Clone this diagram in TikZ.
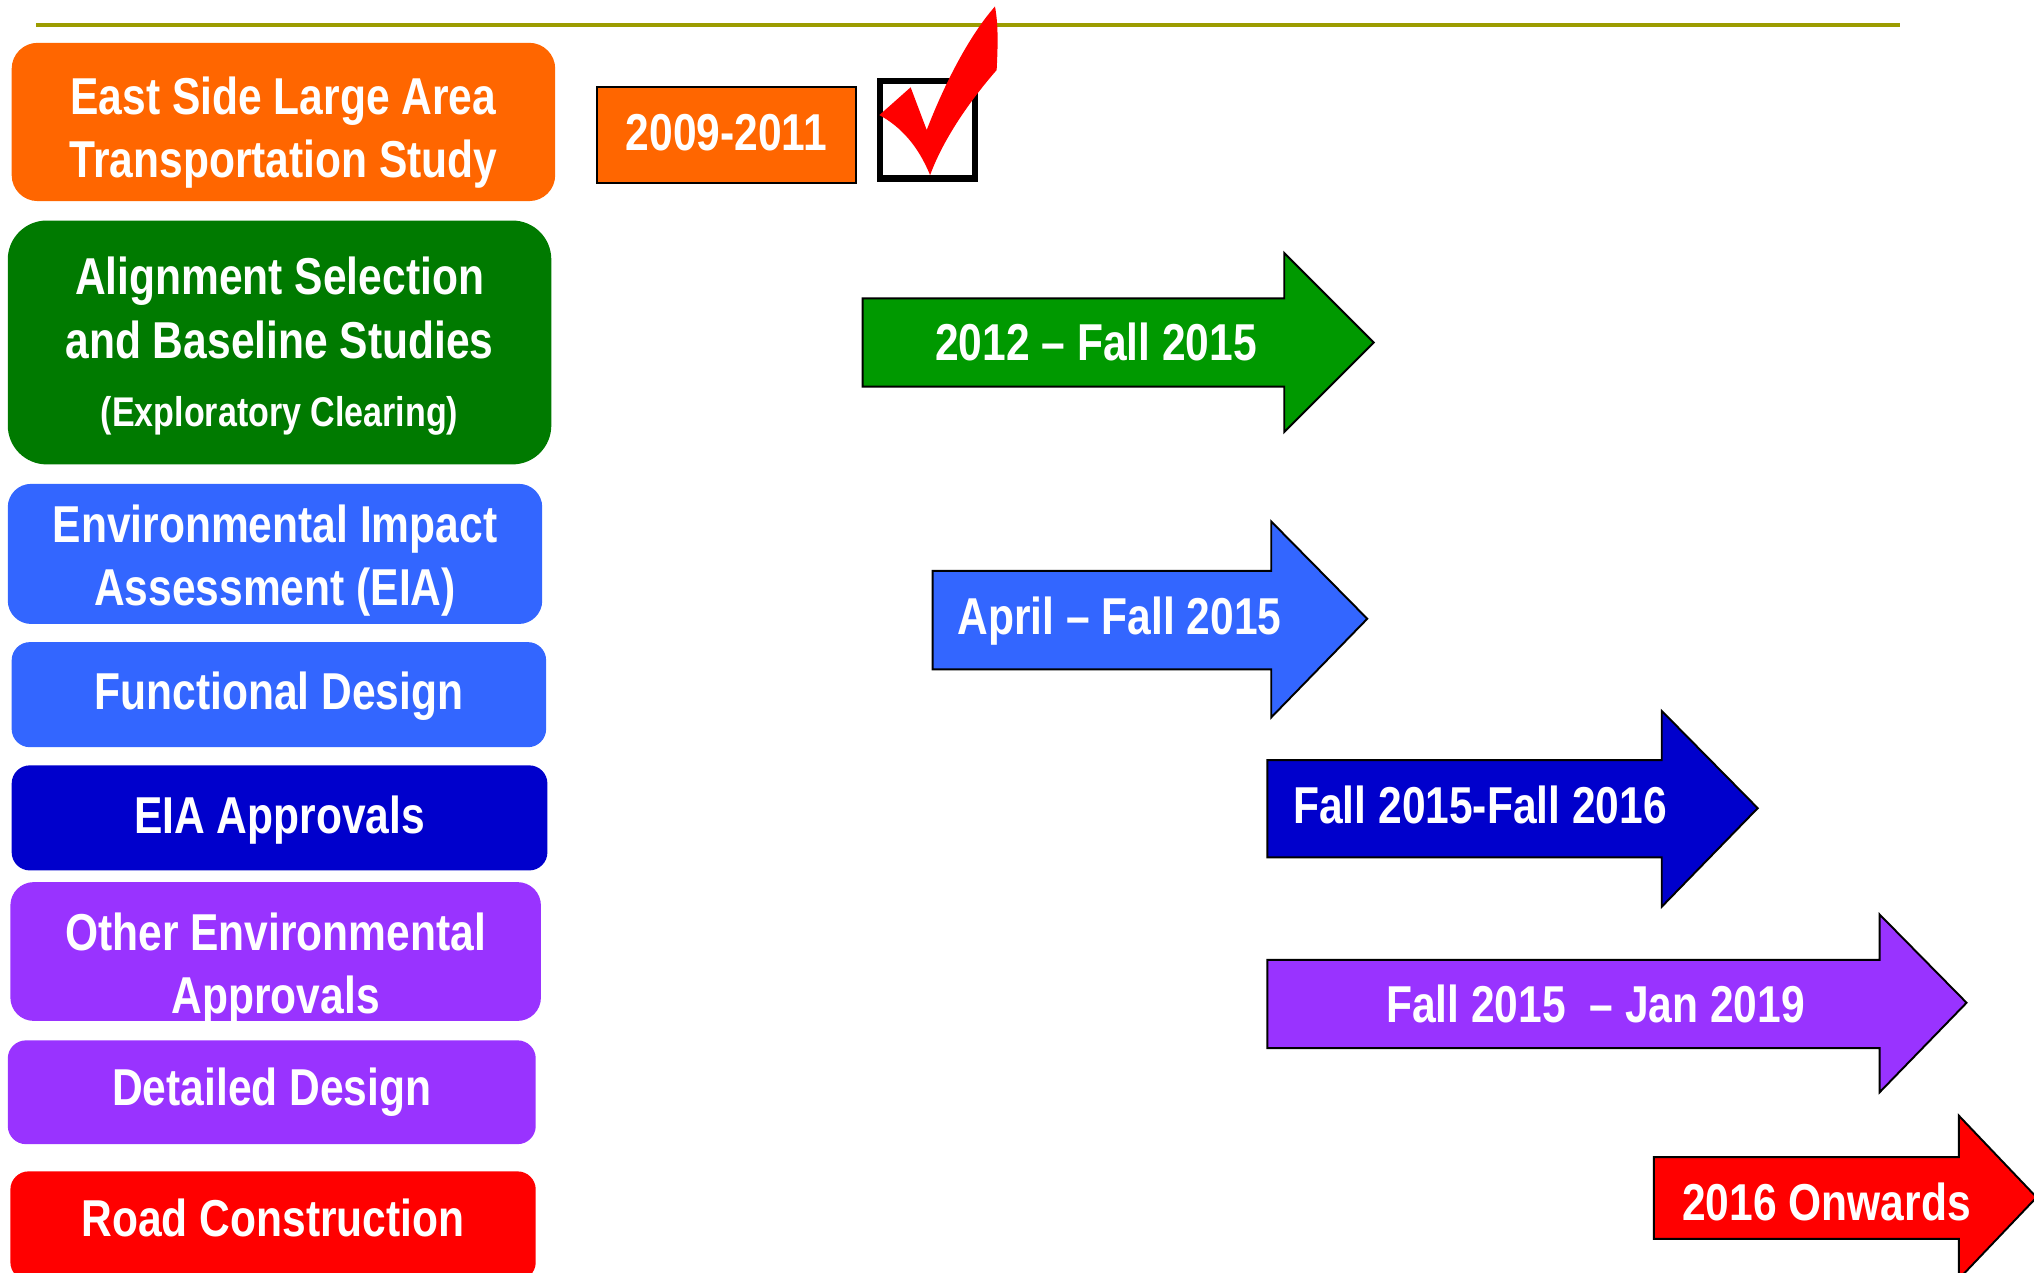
\documentclass[tikz,border=0pt]{standalone}
\usepackage{fontspec}
\newfontfamily\nf{Liberation Sans}[FakeStretch=0.82]
\definecolor{cOrange}{HTML}{FF6600}
\definecolor{cDkGreen}{HTML}{007A00}
\definecolor{cGreen}{HTML}{009900}
\definecolor{cBlue}{HTML}{3366FF}
\definecolor{cDkBlue}{HTML}{0000CC}
\definecolor{cPurple}{HTML}{9933FF}
\definecolor{cRed}{HTML}{FF0000}
\definecolor{cOlive}{HTML}{9C9C00}
\tikzset{
  phase/.style={draw=none, inner sep=0pt, outer sep=0pt},
  lbl/.style={text=white, font=\nf\bfseries\fontsize{20}{24}\selectfont, inner sep=0pt, anchor=base},
  lblsmall/.style={text=white, font=\nf\bfseries\fontsize{16}{19}\selectfont, inner sep=0pt, anchor=base},
  arr/.style={draw=black, line width=0.75pt, line join=miter},
}
\begin{document}
\begin{tikzpicture}[x=0.5pt, y=-0.5pt]
\useasboundingbox (0,0) rectangle (1568,981);
\clip (0,0) rectangle (1568,981);
% top rule
\coordinate (ruleL) at (28,19.3);
\coordinate (ruleR) at (1465,19.3);
\draw[cOlive, line width=1.5pt] (ruleL) -- (ruleR);

% left column boxes
\node[phase, fill=cOrange, minimum width=209.5pt, minimum height=61pt, rounded corners=10pt] (esl) at (218.5,94) {};
\node[lbl] (esl1) at (218.5,88) {East Side Large Area};
\node[lbl] (esl2) at (218.5,136.5) {Transportation Study};

\node[phase, fill=cDkGreen, minimum width=209.5pt, minimum height=94pt, rounded corners=15pt] (als) at (215.5,264) {};
\node[lbl] (als1) at (215.5,227) {Alignment Selection};
\node[lbl] (als2) at (215.5,276) {and Baseline Studies};
\node[lblsmall] (als3) at (215.5,329) {(Exploratory Clearing)};

\node[phase, fill=cBlue, minimum width=206pt, minimum height=54pt, rounded corners=9pt] (eia) at (212,427) {};
\node[lbl] (eia1) at (212,418) {Environmental Impact};
\node[lbl] (eia2) at (212,467) {Assessment (EIA)};

\node[phase, fill=cBlue, minimum width=206pt, minimum height=40.5pt, rounded corners=7pt] (fd) at (215,535.5) {};
\node[lbl] (fd1) at (215,547) {Functional Design};

\node[phase, fill=cDkBlue, minimum width=206.5pt, minimum height=40.5pt, rounded corners=7pt] (eiaa) at (215.5,630.5) {};
\node[lbl] (eiaa1) at (215.5,642.5) {EIA Approvals};

\node[phase, fill=cPurple, minimum width=204.5pt, minimum height=53.5pt, rounded corners=9pt] (oea) at (212.5,733.5) {};
\node[lbl] (oea1) at (212.5,732.5) {Other Environmental};
\node[lbl] (oea2) at (212.5,781) {Approvals};

\node[phase, fill=cPurple, minimum width=203.5pt, minimum height=40pt, rounded corners=7pt] (dd) at (209.5,842) {};
\node[lbl] (dd1) at (209.5,852.5) {Detailed Design};

\node[phase, fill=cRed, minimum width=202.5pt, minimum height=42pt, rounded corners=7pt] (rc) at (210.5,945) {};
\node[lbl] (rc1) at (210.5,953.5) {Road Construction};

% 2009-2011 box
\node[draw=black, line width=0.75pt, fill=cOrange, minimum width=100pt, minimum height=37pt, inner sep=0pt] (yr) at (560,104) {};
\node[lbl] (yr1) at (560,116) {2009-2011};

% check box
\node[draw=black, line width=2.5pt, fill=white, minimum width=36.5pt, minimum height=37.5pt, inner sep=0pt, outer sep=0pt] (chk) at (715,100) {};
% check mark
\fill[cRed] (677.9,88.7) -- (702,67.3) -- (714.4,100.2)
  .. controls (726,70) and (745,30) .. (767,5)
  .. controls (770,20) and (769,40) .. (768.3,54)
  .. controls (750,75) and (728,105) .. (717,135)
  .. controls (708,113) and (695,98) .. cycle;

% arrows
\draw[arr, fill=cGreen] (665,230) -- (990,230) -- (990,195) -- (1059,264) -- (990,333) -- (990,298) -- (665,298) -- cycle;
\node[lbl] (a1) at (845,278) {2012 – Fall 2015};

\draw[arr, fill=cBlue] (719,440) -- (980,440) -- (980,402) -- (1054,477) -- (980,553) -- (980,516) -- (719,516) -- cycle;
\node[lbl] (a2) at (863,489) {April – Fall 2015};

\draw[arr, fill=cDkBlue] (977,586) -- (1281,586) -- (1281,548) -- (1355,623) -- (1281,699) -- (1281,661) -- (977,661) -- cycle;
\node[lbl] (a3) at (1141,635) {Fall 2015-Fall 2016};

\draw[arr, fill=cPurple] (977,740) -- (1449,740) -- (1449,705) -- (1516,773) -- (1449,842) -- (1449,808) -- (977,808) -- cycle;
\node[lbl] (a4) at (1230,788.5) {Fall 2015\ \ – Jan 2019};

\draw[arr, fill=cRed] (1275,892) -- (1510,892) -- (1510,860) -- (1570,923) -- (1510,986) -- (1510,955) -- (1275,955) -- cycle;
\node[lbl] (a5) at (1408,941) {2016 Onwards};
\end{tikzpicture}
\end{document}
